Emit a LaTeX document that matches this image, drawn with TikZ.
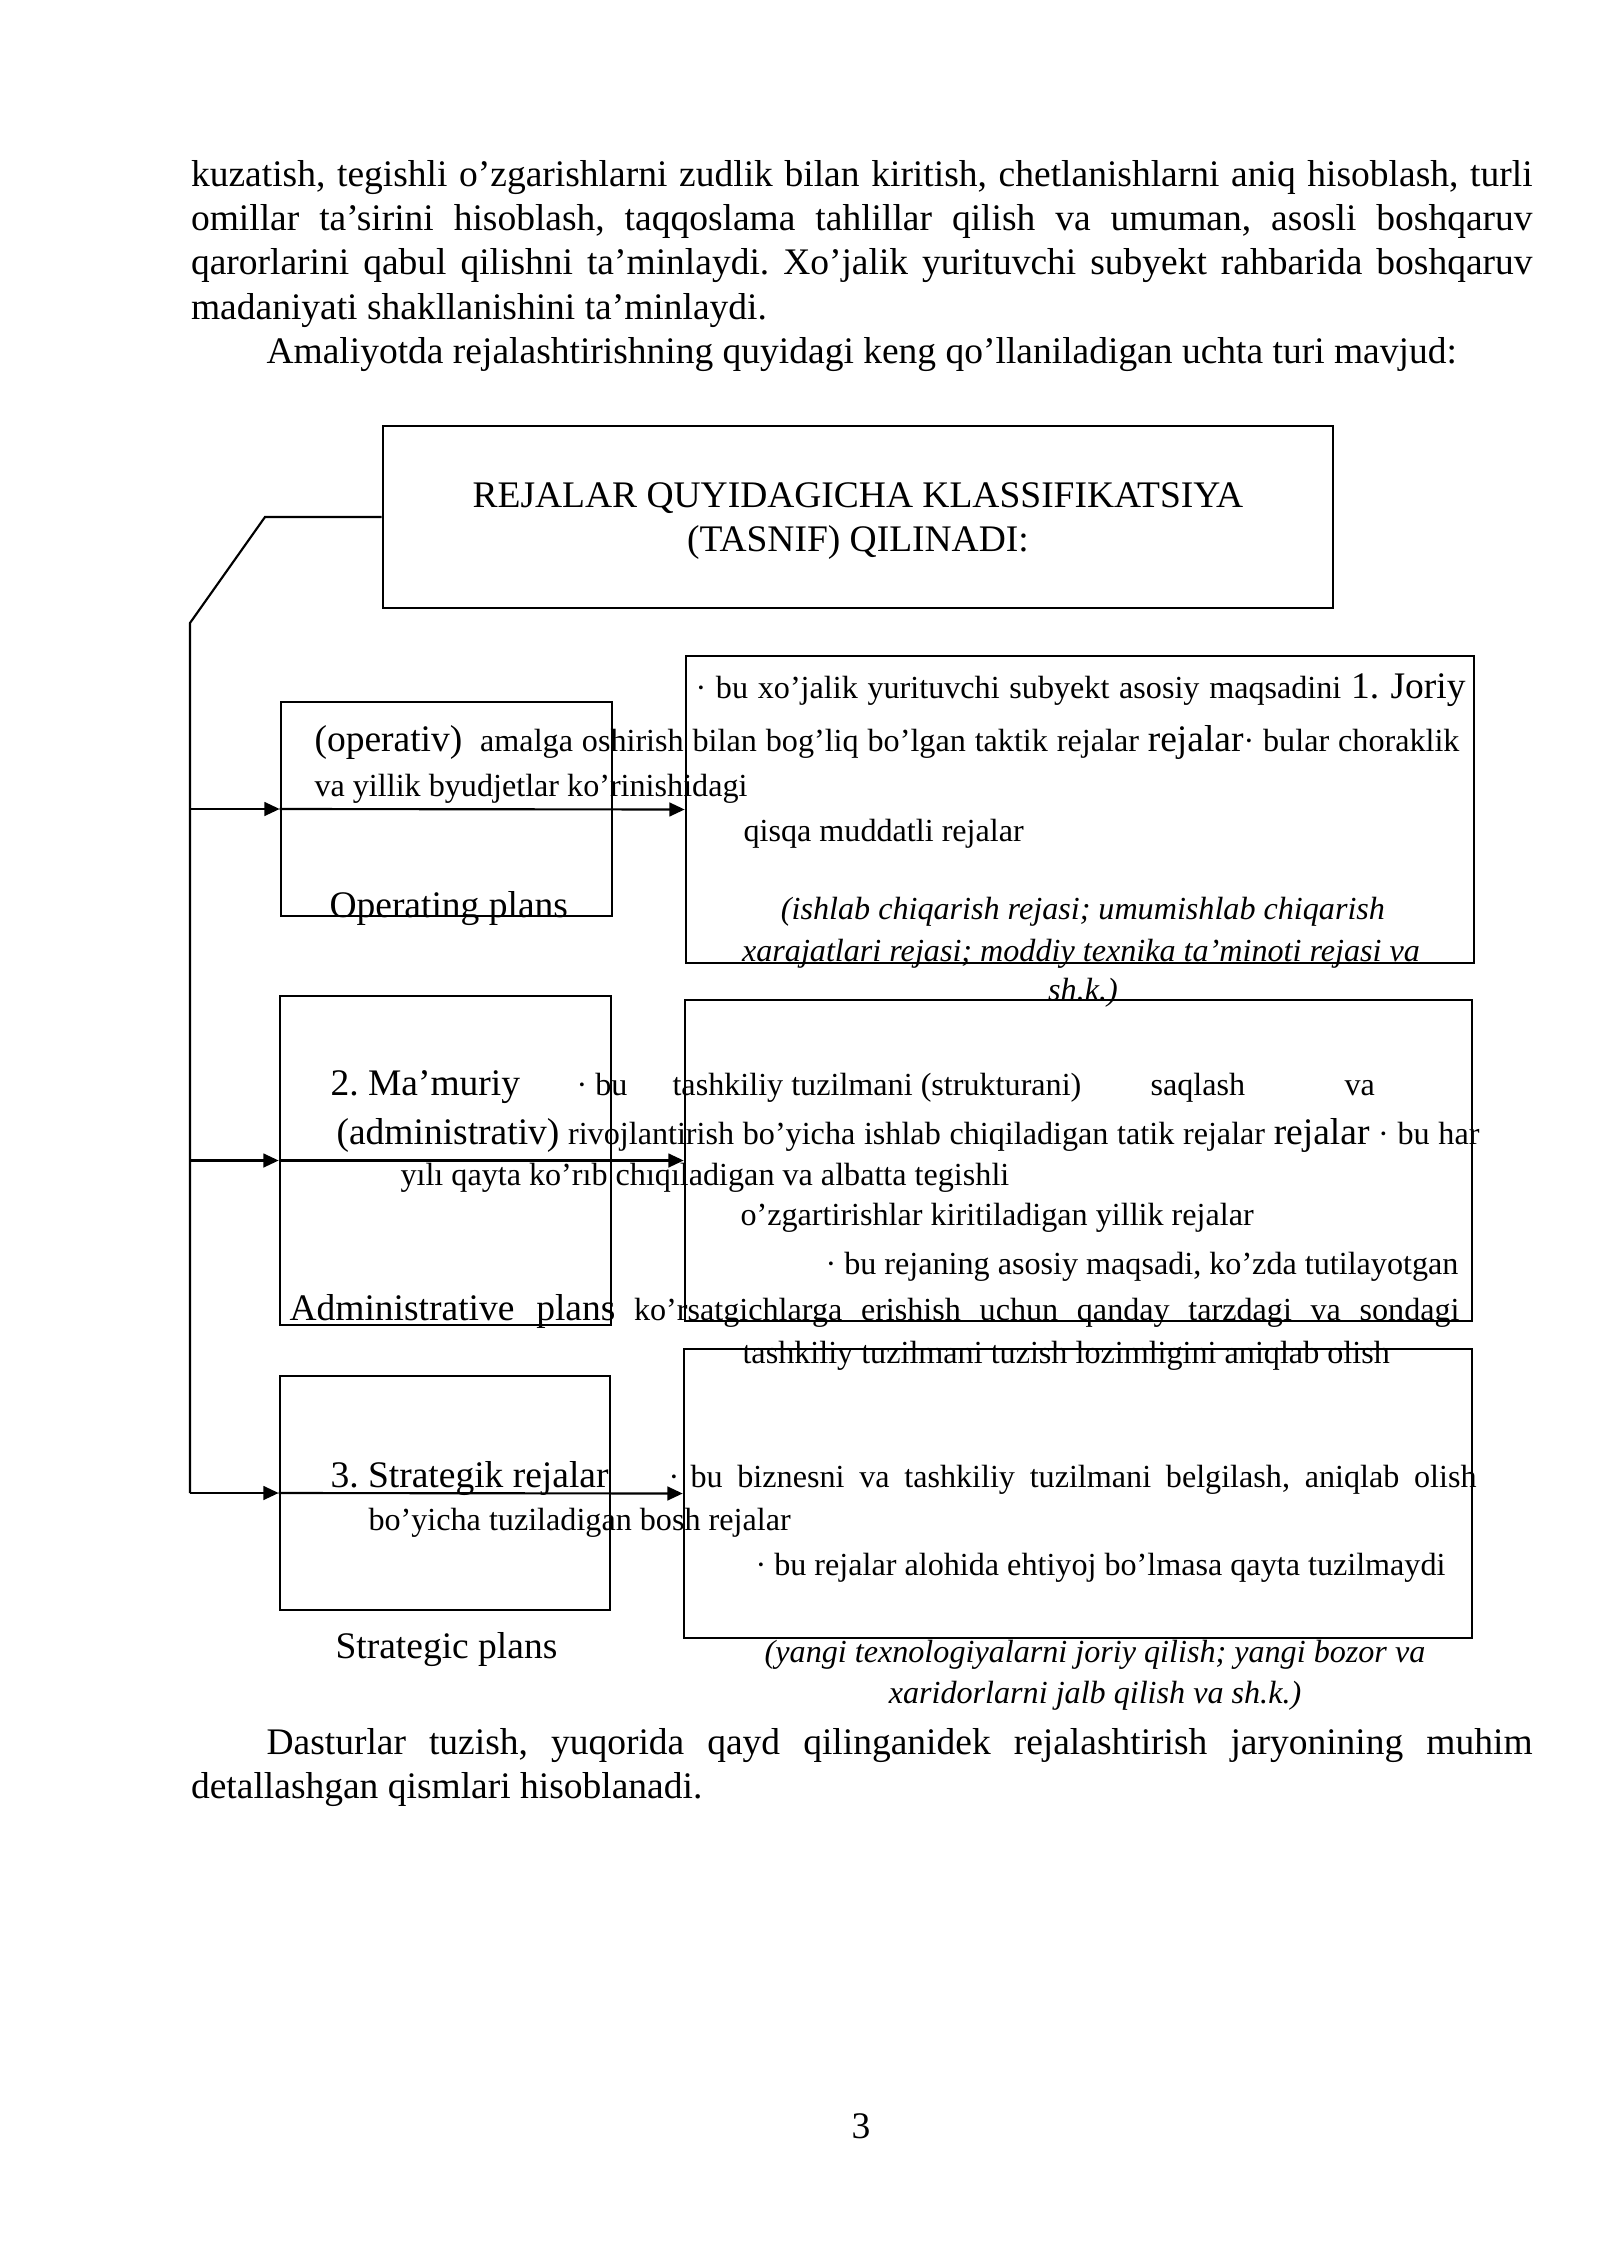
\documentclass[tikz,border=0pt]{standalone}
\usepackage{fontspec}
\setmainfont{Liberation Serif}
\usetikzlibrary{arrows.meta,fit}
\newlength\px
\setlength\px{0.013125cm}
\frenchspacing
\begin{document}
\begin{tikzpicture}[x=0.013125cm,y=-0.013125cm,
  boxst/.style={draw, line width=1pt, inner sep=0pt},
  conn/.style={line width=0.8pt},
  arr/.style={conn, -{Triangle[length=0.2cm,width=0.18cm]}},
  txt/.style={anchor=base west, inner sep=0pt, font=\fontsize{14}{16}\selectfont},
  stxt/.style={anchor=base west, inner sep=0pt, font=\fontsize{12}{14}\selectfont},
  itxt/.style={anchor=base, inner sep=0pt, font=\fontsize{12}{14}\selectfont\itshape},
]
\useasboundingbox (0,0) rectangle (1600,2262);
\def\L{\fontsize{14}{16}\selectfont}
% body text
\node[txt] (p1) at (190.5,187) {\makebox[1341.5\px][s]{kuzatish, tegishli o’zgarishlarni zudlik bilan kiritish, chetlanishlarni aniq hisoblash, turli}};
\node[txt] (p2) at (190.5,231) {\makebox[1341.5\px][s]{omillar ta’sirini hisoblash, taqqoslama tahlillar qilish va umuman, asosli boshqaruv}};
\node[txt] (p3) at (190.5,275) {\makebox[1341.5\px][s]{qarorlarini qabul qilishni ta’minlaydi. Xo’jalik yurituvchi subyekt rahbarida boshqaruv}};
\node[txt] (p4) at (190.5,319) {madaniyati shakllanishini ta’minlaydi.};
\node[txt] (p5) at (266,363) {Amaliyotda rejalashtirishning quyidagi keng qo’llaniladigan uchta turi mavjud:};
% boxes
\node[boxst, fit={(383,426) (1333,608)}] (title) {};
\node[txt, anchor=base] (tt1) at (858,507) {REJALAR QUYIDAGICHA KLASSIFIKATSIYA};
\node[txt, anchor=base] (tt2) at (858,551) {(TASNIF) QILINADI:};
\node[boxst, fit={(281,702) (612,916)}] (box1) {};
\node[boxst, fit={(686,656) (1474,963)}] (rbox1) {};
\node[boxst, fit={(280,996) (611,1325)}] (box2) {};
\node[boxst, fit={(685,1000) (1472,1321)}] (rbox2) {};
\node[boxst, fit={(280,1376) (610,1610)}] (box3) {};
\node[boxst, fit={(684,1349) (1472,1638)}] (rbox3) {};
% connectors
\coordinate (c1) at (265,517);
\coordinate (c2) at (190,623);
\draw[conn] (title.west) -- (c1) -- (c2) -- (c2 |- box3.west);
\draw[arr] (c2 |- box1.west) -- (box1.west);
\draw[arr] (box1.west) -- (rbox1.west);
\draw[arr] (c2 |- box2.west) -- (box2.west);
\draw[arr] (box2.west) -- (rbox2.west);
\draw[arr] (c2 |- box3.west) -- (box3.west);
\draw[arr] (box3.west) -- (rbox3.west);
% block 1
\node[stxt] (t1a) at (695,698) {\makebox[770\px][s]{· bu xo’jalik yurituvchi subyekt asosiy maqsadini {\L 1. Joriy}}};
\node[stxt] (t1b) at (314,751) {\makebox[1145\px][s]{{\L (operativ)}\ \ amalga oshirish bilan bog’liq bo’lgan taktik rejalar {\L rejalar}· bular choraklik}};
\node[stxt] (t1c) at (314,796) {va yillik byudjetlar ko’rinishidagi};
\node[stxt] (t1d) at (743,841) {qisqa muddatli rejalar};
\node[txt] (t1e) at (329,917) {Operating plans};
\node[itxt] (i1a) at (1083,919) {(ishlab chiqarish rejasi; umumishlab chiqarish};
\node[itxt] (i1b) at (1081,961) {xarajatlari rejasi; moddiy texnika ta’minoti rejasi va};
\node[itxt] (i1c) at (1083,1000) {sh.k.)};
% block 2
\node[txt] (t2a) at (330,1095) {2. Ma’muriy};
\node[stxt] (t2b) at (576,1095) {· bu};
\node[stxt] (t2c) at (672,1095) {tashkiliy tuzilmani (strukturani)};
\node[stxt] (t2d) at (1150,1095) {saqlash};
\node[stxt] (t2e) at (1344,1095) {va};
\node[stxt] (t2f) at (336,1144) {\makebox[1143\px][s]{{\L (administrativ)} rivojlantirish bo’yicha ishlab chiqiladigan tatik rejalar {\L rejalar} · bu har}};
\node[stxt] (t2g) at (400,1185) {yılı qayta ko’rıb chıqıladigan va albatta tegishli};
\node[stxt] (t2h) at (740,1225) {o’zgartirishlar kiritiladigan yillik rejalar};
\node[stxt] (t2i) at (825,1274) {· bu rejaning asosiy maqsadi, ko’zda tutilayotgan};
\node[stxt] (t2j) at (289,1320) {\makebox[1170\px][s]{{\L Administrative\ \ plans}\ \ ko’rsatgichlarga\ \ erishish\ \ uchun\ \ qanday\ \ tarzdagi\ \ va\ \ sondagi}};
\node[stxt] (t2k) at (742,1363) {tashkiliy tuzilmani tuzish lozimligini aniqlab olish};
% block 3
\node[txt] (t3a) at (330,1487) {3. Strategik rejalar};
\node[stxt] (t3b) at (668,1487) {·};
\node[stxt] (t3c) at (690,1487) {\makebox[786\px][s]{bu biznesni va tashkiliy tuzilmani belgilash, aniqlab olish}};
\node[stxt] (t3d) at (368,1530) {bo’yicha tuziladigan bosh rejalar};
\node[stxt] (t3e) at (755,1575) {· bu rejalar alohida ehtiyoj bo’lmasa qayta tuzilmaydi};
\node[txt] (t3f) at (335,1658) {Strategic plans};
\node[itxt] (i3a) at (1095,1662) {(yangi texnologiyalarni joriy qilish; yangi bozor va};
\node[itxt] (i3b) at (1095,1703) {xaridorlarni jalb qilish va sh.k.)};
% bottom
\node[txt] (p6) at (266,1754) {\makebox[1266\px][s]{Dasturlar tuzish, yuqorida qayd qilinganidek rejalashtirish jaryonining muhim}};
\node[txt] (p7) at (190.5,1798) {detallashgan qismlari hisoblanadi.};
\node[txt, anchor=base] (pg) at (861,2138) {3};
\end{tikzpicture}
\end{document}
